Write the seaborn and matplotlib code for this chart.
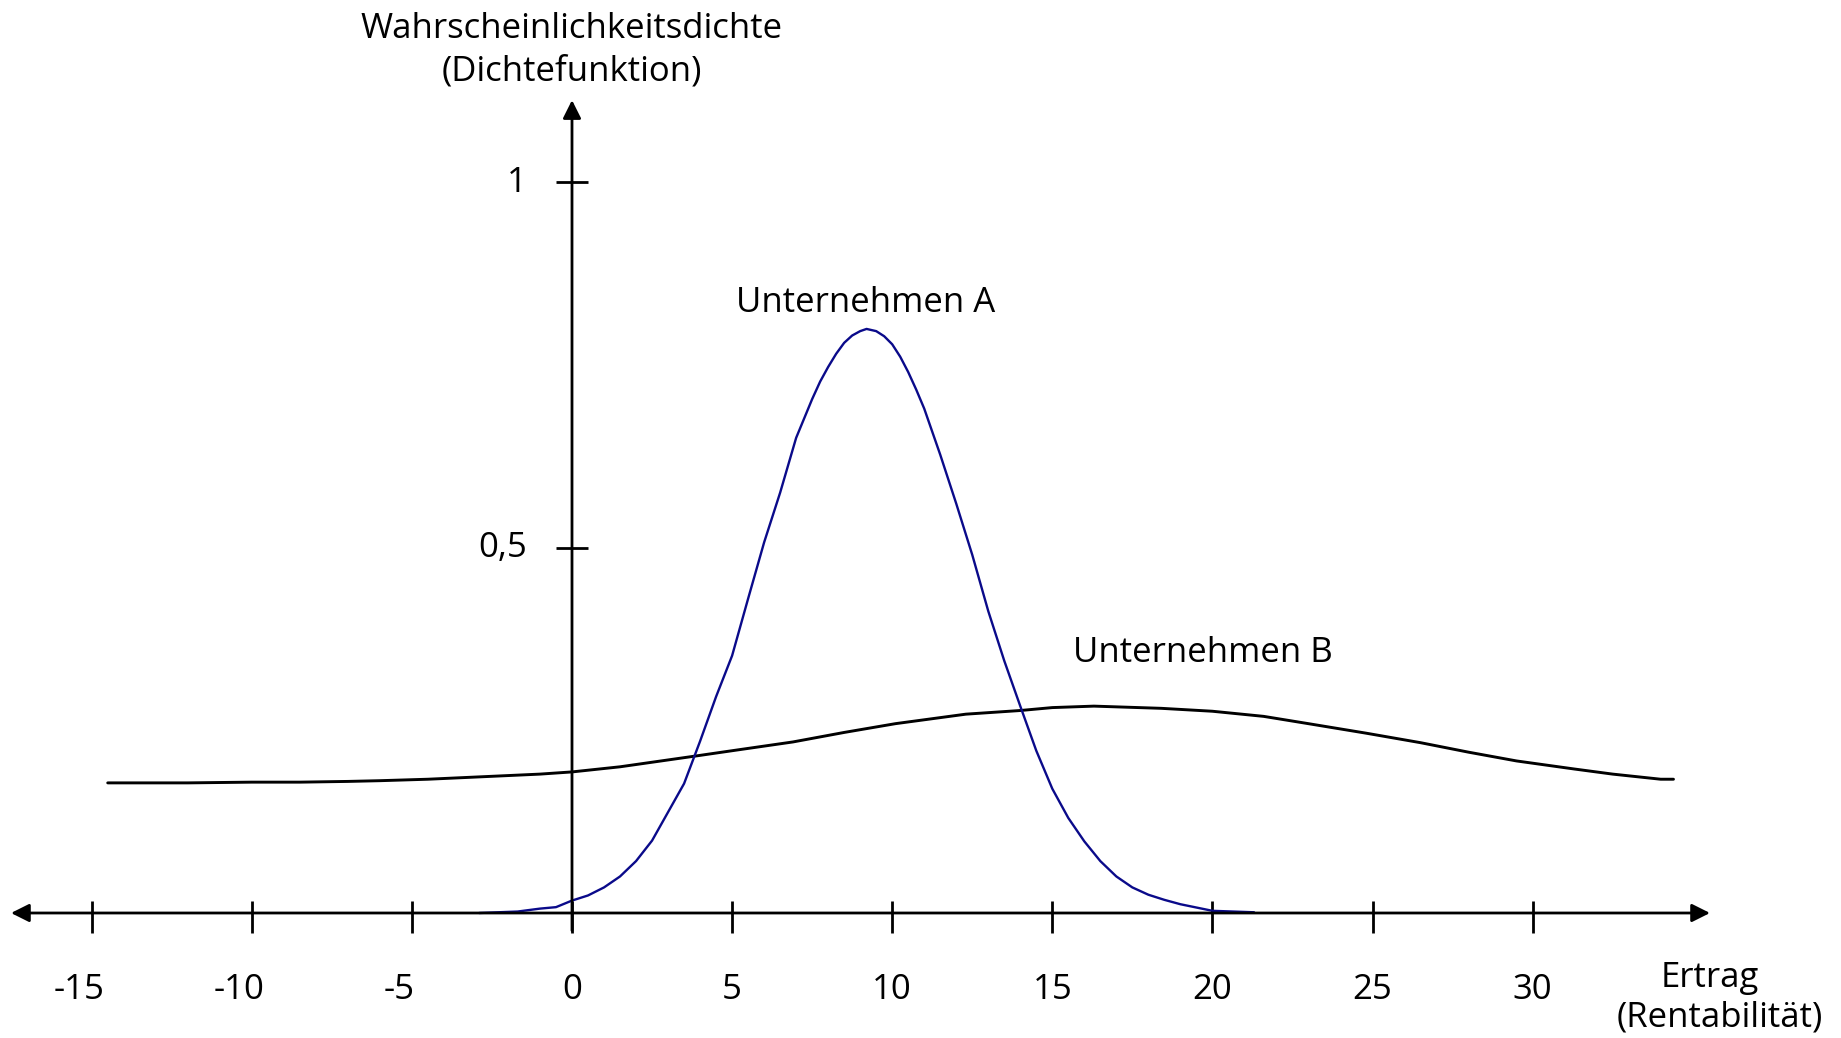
import pandas as pd
from matplotlib import pyplot as plt
import seaborn as sns

sns.set_theme(style="white")
plt.rcParams["font.family"] = ["Open Sans", "DejaVu Sans"]
plt.rcParams["text.color"] = "black"

# Werte
ertrag_a = [-2.9, -1.7, -1.0, -0.5, 0.0, 0.5, 1.0, 1.5, 2.0, 2.5, 3.0, 3.5, 4.0, 4.5,
            5.0, 5.5, 6.0, 6.5, 7.0, 7.5, 7.75, 8.0, 8.25, 8.5, 8.75, 9.0, 9.2, 9.5,
            9.75, 10.0, 10.25, 10.5, 10.75, 11.0, 11.5, 12.0, 12.5, 13.0, 13.5, 14.0,
            14.5, 15.0, 15.5, 16.0, 16.5, 17.0, 17.5, 18.0, 18.5, 19.0, 20.0, 21.3]
dichte_a = [0.000, 0.002, 0.006, 0.008, 0.017, 0.024, 0.035, 0.050, 0.071, 0.099,
            0.138, 0.177, 0.235, 0.296, 0.352, 0.430, 0.507, 0.575, 0.650, 0.703,
            0.727, 0.747, 0.765, 0.780, 0.790, 0.796, 0.799, 0.796, 0.789, 0.778,
            0.761, 0.740, 0.716, 0.690, 0.627, 0.560, 0.490, 0.413, 0.345, 0.283,
            0.222, 0.170, 0.130, 0.098, 0.071, 0.050, 0.035, 0.025, 0.018, 0.012,
            0.003, 0.001]

ertrag_b = [-14.5, -12.0, -10.0, -8.5, -7.0, -6.0, -4.5, -2.5, -1.0, 0.0, 1.5, 3.9,
            5.0, 6.9, 8.5, 10.1, 12.3, 14.0, 15.0, 16.3, 18.4, 20.0, 21.6, 23.0,
            24.8, 26.5, 28.0, 29.5, 31.3, 32.5, 34.0, 34.4]
dichte_b = [0.178, 0.178, 0.179, 0.179, 0.180, 0.181, 0.183, 0.187, 0.190, 0.193,
            0.200, 0.215, 0.222, 0.234, 0.247, 0.259, 0.272, 0.277, 0.281, 0.283,
            0.280, 0.276, 0.269, 0.259, 0.246, 0.233, 0.220, 0.208, 0.197, 0.190,
            0.183, 0.183]

x_ticks = [-15, -10, -5, 0, 5, 10, 15, 20, 25, 30]
x_labels = ["-15", "-10", "-5", "0", "5", "10", "15", "20", "25", "30"]
y_ticks = [0.5, 1.0]
y_labels = ["0,5", "1"]

df_a = pd.DataFrame({"ertrag": ertrag_a, "dichte": dichte_a})
df_b = pd.DataFrame({"ertrag": ertrag_b, "dichte": dichte_b})

fig = plt.figure(figsize=(18.41, 10.38), dpi=100)
ax = fig.add_axes([0, 0, 1, 1])
px_x = 32.02   # pixel je Einheit Ertrag
px_y = 731.0   # pixel je Einheit Dichte
ax.set_xlim(-572 / px_x, (1841 - 572) / px_x)
ax.set_ylim(-(1038 - 913) / px_y, 913 / px_y)
ax.axis("off")

fs = 25

# Achsen mit Pfeilen
arrow = dict(arrowstyle="-|>,head_length=11,head_width=5.5", color="black",
             lw=2, shrinkA=0, shrinkB=0, mutation_scale=1)
ax.annotate("", xy=(35.54, 0), xytext=(0, 0), arrowprops=arrow)
ax.annotate("", xy=(-17.52, 0), xytext=(0, 0), arrowprops=arrow)
ax.annotate("", xy=(0, 1.112), xytext=(0, -0.024), arrowprops=arrow)

ax.vlines(x_ticks, -0.027, 0.016, color="black", lw=2)
ax.hlines(y_ticks, -0.5, 0.5, color="black", lw=2)

for t, lab in zip(x_ticks, x_labels):
    shift = -0.4 if lab.startswith("-") else 0
    ax.text(t + shift, -0.118, lab, ha="center", va="baseline", fontsize=fs)
for t, lab in zip(y_ticks, y_labels):
    ax.text(-1.4, t - 0.013, lab, ha="right", va="baseline", fontsize=fs)

sns.lineplot(data=df_b, x="ertrag", y="dichte", ax=ax, color="black", lw=2.1)
sns.lineplot(data=df_a, x="ertrag", y="dichte", ax=ax, color="#0a0a8a", lw=1.7)

ax.text(9.18, 0.822, "Unternehmen A", ha="center", va="baseline", fontsize=fs)
ax.text(19.69, 0.343, "Unternehmen B", ha="center", va="baseline", fontsize=fs)

ax.text(0, 1.197, "Wahrscheinlichkeitsdichte", ha="center", va="baseline", fontsize=fs)
ax.text(0, 1.1395, "(Dichtefunktion)", ha="center", va="baseline", fontsize=fs)
ax.text(35.54, -0.101, "Ertrag", ha="center", va="baseline", fontsize=fs)
ax.text(35.83, -0.1556, "(Rentabilität)", ha="center", va="baseline", fontsize=fs)

fig.savefig("out.png", dpi=100, facecolor="white")
